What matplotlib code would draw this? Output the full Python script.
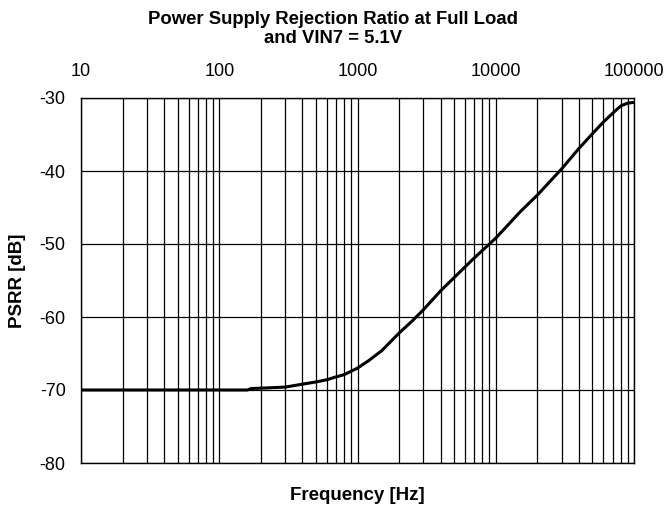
import matplotlib
matplotlib.use('Agg')
import matplotlib.pyplot as plt
from matplotlib.ticker import FixedLocator, LogLocator, FuncFormatter, NullFormatter

freq = [10, 100, 160, 170, 200, 300, 400, 500, 600, 700, 800, 1000, 1200, 1500,
        2000, 2500, 3000, 4000, 5000, 7000, 10000, 15000, 20000, 30000, 40000,
        50000, 60000, 70000, 80000, 90000, 100000]
psrr = [-70, -70, -70, -69.8, -69.75, -69.6, -69.2, -68.9, -68.6, -68.2, -67.9,
        -67.0, -66.0, -64.6, -62.2, -60.5, -59.0, -56.4, -54.6, -51.9, -49.2,
        -45.6, -43.3, -39.7, -36.9, -34.9, -33.3, -32.1, -31.1, -30.7, -30.6]

x_ticks = [10, 100, 1000, 10000, 100000]
y_ticks = [-80, -70, -60, -50, -40, -30]

plt.rcParams['font.family'] = ['Liberation Sans', 'DejaVu Sans']

fig = plt.figure(figsize=(6.66, 5.13), dpi=100)
ax = fig.add_axes([81/666, 50/513, 553/666, 365/513])

ax.plot(freq, psrr, color='black', linewidth=2.2, solid_capstyle='butt')

ax.set_xscale('log')
ax.set_xlim(10, 100000)
ax.set_ylim(-80, -30)

ax.xaxis.tick_top()
ax.xaxis.set_major_locator(FixedLocator(x_ticks))
ax.xaxis.set_minor_locator(LogLocator(base=10, subs=range(2, 10)))
ax.xaxis.set_major_formatter(FuncFormatter(lambda v, p: '%d' % v))
ax.xaxis.set_minor_formatter(NullFormatter())
ax.set_yticks(y_ticks)
ax.set_yticklabels(['%d' % v for v in y_ticks])

ax.tick_params(which='both', length=0, labelsize=13)
ax.tick_params(axis='x', pad=13)
ax.tick_params(axis='y', pad=11)

ax.grid(which='major', axis='both', color='black', linewidth=0.9)
ax.grid(which='minor', axis='x', color='black', linewidth=0.9)
for s in ax.spines.values():
    s.set_color('black')
    s.set_linewidth(1.0)

ax.set_xlabel('Frequency [Hz]', fontsize=13.5, fontweight='bold')
ax.set_ylabel('PSRR [dB]', fontsize=13.5, fontweight='bold')
ax.xaxis.set_label_coords(0.5, (463 - 495) / 365)
ax.xaxis.label.set_va('center')
ax.yaxis.set_label_coords((18 - 81) / 553, 0.5)
ax.yaxis.label.set_va('center')
fig.text(0.5, 1 - 29/513, 'Power Supply Rejection Ratio at Full Load\nand VIN7 = 5.1V',
         ha='center', va='center', fontsize=13.3, fontweight='bold', linespacing=1.16)

fig.savefig('out.png', dpi=100)
